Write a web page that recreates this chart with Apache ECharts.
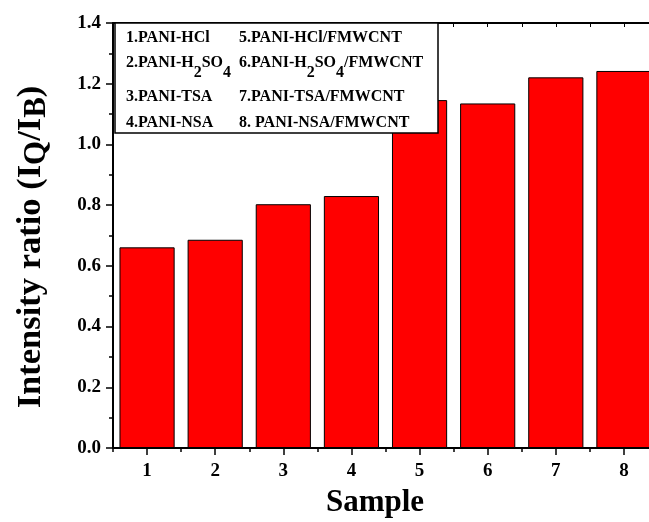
<!DOCTYPE html>
<html>
<head>
<meta charset="utf-8">
<script src="https://cdn.jsdelivr.net/npm/echarts@6/dist/echarts.min.js"></script>
<style>html,body{margin:0;padding:0;background:#fff;overflow:hidden;width:649px;height:522px;}#c{width:670px;height:522px;}</style>
</head>
<body>
<div id="c"></div>
<script>
const categories = ['1', '2', '3', '4', '5', '6', '7', '8'];
const ratios = [0.661, 0.686, 0.803, 0.830, 1.146, 1.135, 1.221, 1.242];
const legendLeft = ['1.PANI-HCl', '2.PANI-H{s|2}SO{s|4}', '3.PANI-TSA', '4.PANI-NSA'];
const legendRight = ['5.PANI-HCl/FMWCNT', '6.PANI-H{s|2}SO{s|4}/FMWCNT', '7.PANI-TSA/FMWCNT', '8. PANI-NSA/FMWCNT'];
const xTitle = 'Sample';
const yTitle = '{m|Intensity ratio (I}{q|Q}{m|/I}{q|B}{m|)}';

const FONT = "'Liberation Serif', 'Times New Roman', serif";
const chart = echarts.init(document.getElementById('c'), null, {renderer: 'canvas'});

const rowY = [38, 63, 97, 123];
const legendTexts = [];
function legendItem(txt, x, y) {
  return {
    type: 'text', x: x, y: y, z: 102,
    style: {
      text: '{m|' + txt.replace(/\{s\|(\d)\}/g, '}{s|$1}{m|') + '}',
      textVerticalAlign: 'middle', verticalAlign: 'middle', align: 'left',
      rich: {
        m: {fontFamily: FONT, fontWeight: 'bold', fontSize: 16, lineHeight: 20, fill: '#000', color: '#000'},
        s: {fontFamily: FONT, fontWeight: 'bold', fontSize: 16, lineHeight: 20, padding: [19, 0, 0, 0], fill: '#000', color: '#000'}
      }
    }
  };
}
legendLeft.forEach((t, i) => legendTexts.push(legendItem(t, 126, rowY[i])));
legendRight.forEach((t, i) => legendTexts.push(legendItem(t, 239, rowY[i])));

const axisBlack = {color: '#000', width: 2};
chart.setOption({
  animation: false,
  backgroundColor: '#fff',
  grid: {left: 113, top: 23, width: 545, height: 425, containLabel: false},
  xAxis: [
    {
      type: 'category', data: categories, position: 'bottom',
      axisLine: {show: true, lineStyle: axisBlack},
      axisTick: {show: true, alignWithLabel: true, length: 7, lineStyle: {color: '#000', width: 1.5}},
      axisLabel: {show: true, margin: 14, color: '#000', fontFamily: FONT, fontWeight: 'bold', fontSize: 19},
      splitLine: {show: false}
    },
    {
      type: 'category', data: categories, position: 'bottom',
      axisLine: {show: false},
      axisTick: {show: true, alignWithLabel: false, length: 4, lineStyle: {color: '#000', width: 1.5}},
      axisLabel: {show: false},
      splitLine: {show: false}
    },
    {
      type: 'value', position: 'top', min: 0.5, max: 8.5, interval: 0.5,
      axisLine: {show: true, lineStyle: axisBlack},
      axisTick: {show: true, inside: true, length: 4, lineStyle: {color: '#000', width: 1}},
      axisLabel: {show: false},
      splitLine: {show: false}
    }
  ],
  yAxis: [{
    type: 'value', min: 0, max: 1.4, interval: 0.2,
    axisLine: {show: true, lineStyle: axisBlack},
    axisTick: {show: true, length: 7, lineStyle: {color: '#000', width: 1.5}},
    minorTick: {show: true, splitNumber: 2, length: 4, lineStyle: {color: '#000', width: 1.5}},
    axisLabel: {show: true, margin: 12, color: '#000', fontFamily: FONT, fontWeight: 'bold', fontSize: 19,
      formatter: v => v.toFixed(1)},
    splitLine: {show: false}
  }],
  series: [{
    type: 'bar', xAxisIndex: 0, yAxisIndex: 0, data: ratios,
    barCategoryGap: '19%',
    itemStyle: {color: '#ff0000', borderColor: '#000', borderWidth: 1}
  }],
  graphic: [
    {type: 'rect', z: 101, shape: {x: 115, y: 23, width: 323, height: 110},
     style: {fill: '#fff', stroke: '#000', lineWidth: 1.5}},
    ...legendTexts,
    {type: 'text', x: 375, y: 503, z: 50,
     style: {text: xTitle, font: "bold 31px " + FONT, fill: '#000', textAlign: 'center', textVerticalAlign: 'middle', align: 'center', verticalAlign: 'middle'}},
    {type: 'text', x: 31, y: 247, rotation: Math.PI / 2, z: 50,
     style: {text: yTitle, align: 'center', verticalAlign: 'middle', textAlign: 'center', textVerticalAlign: 'middle',
       rich: {
         m: {fontFamily: FONT, fontWeight: 'bold', fontSize: 34.5, lineHeight: 40, fill: '#000', color: '#000'},
         q: {fontFamily: FONT, fontWeight: 'bold', fontSize: 31, lineHeight: 40, padding: [12, 0, 0, 0], fill: '#000', color: '#000'}
       }}}
  ]
});
</script>
</body>
</html>
